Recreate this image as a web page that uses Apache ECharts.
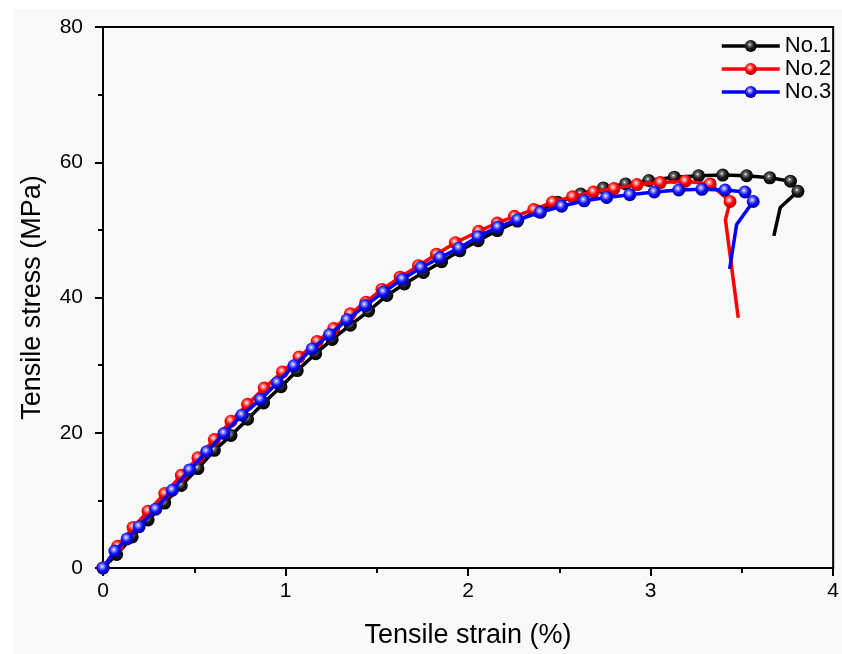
<!DOCTYPE html>
<html>
<head>
<meta charset="utf-8">
<script src="https://cdn.jsdelivr.net/npm/echarts@6/dist/echarts.min.js"></script>
<style>
html,body{margin:0;padding:0;background:#ffffff;}
#chart{width:842px;height:654px;}
</style>
</head>
<body>
<div id="chart"></div>
<script>
// ---- data (strain %, stress MPa) ----
const seriesNames = ['No.1', 'No.2', 'No.3'];

const no1Strain = [0, 0.075, 0.16, 0.247, 0.338, 0.429, 0.52, 0.61, 0.701, 0.792, 0.88, 0.975, 1.064, 1.165, 1.255, 1.355, 1.455, 1.555, 1.651, 1.755, 1.855, 1.955, 2.055, 2.16, 2.27, 2.38, 2.49, 2.617, 2.741, 2.863, 2.99, 3.13, 3.263, 3.395, 3.526, 3.653, 3.766, 3.807];
const no1Stress = [0, 2.0, 4.6, 7.1, 9.6, 12.2, 14.7, 17.4, 19.6, 22.0, 24.4, 26.8, 29.2, 31.7, 33.8, 35.9, 38.0, 40.3, 42.0, 43.7, 45.3, 46.9, 48.4, 49.9, 51.3, 52.8, 54.1, 55.3, 56.2, 56.8, 57.3, 57.8, 58.0, 58.1, 58.0, 57.7, 57.2, 55.7];
const no1TailStrain = [3.71, 3.675];
const no1TailStress = [53.3, 49.1];

const no2Strain = [0, 0.08, 0.165, 0.247, 0.338, 0.429, 0.52, 0.61, 0.701, 0.792, 0.883, 0.983, 1.074, 1.173, 1.264, 1.355, 1.44, 1.528, 1.628, 1.728, 1.827, 1.93, 2.058, 2.16, 2.254, 2.36, 2.463, 2.572, 2.687, 2.799, 2.926, 3.053, 3.19, 3.326, 3.435];
const no2Stress = [0, 3.2, 6.0, 8.4, 11.0, 13.7, 16.3, 19.0, 21.7, 24.2, 26.6, 29.0, 31.2, 33.5, 35.4, 37.6, 39.3, 41.2, 43.0, 44.7, 46.4, 48.1, 49.8, 51.0, 52.0, 53.0, 54.1, 54.9, 55.6, 56.1, 56.7, 57.0, 57.2, 56.8, 54.2];
const no2TailStrain = [3.41, 3.48];
const no2TailStress = [51.5, 37.0];

const no3Strain = [0, 0.065, 0.132, 0.198, 0.289, 0.38, 0.474, 0.568, 0.663, 0.761, 0.863, 0.955, 1.046, 1.146, 1.241, 1.337, 1.437, 1.537, 1.64, 1.742, 1.846, 1.95, 2.054, 2.163, 2.272, 2.396, 2.512, 2.636, 2.759, 2.886, 3.02, 3.154, 3.281, 3.408, 3.517, 3.562];
const no3Stress = [0, 2.5, 4.3, 6.1, 8.7, 11.5, 14.5, 17.2, 19.9, 22.6, 24.9, 27.4, 29.9, 32.4, 34.5, 36.7, 38.8, 40.8, 42.7, 44.4, 45.9, 47.3, 49.0, 50.4, 51.5, 52.6, 53.5, 54.3, 54.8, 55.2, 55.6, 55.9, 56.0, 55.9, 55.6, 54.2];
const no3TailStrain = [3.471, 3.433];
const no3TailStress = [50.8, 44.2];

const xTicks = [0, 1, 2, 3, 4];
const yTicks = [0, 20, 40, 60, 80];

// ---- build ----
const FONT = '"Liberation Sans", Arial, sans-serif';

function sphere(light, base, dark) {
  return {
    type: 'radial', x: 0.42, y: 0.38, r: 0.62,
    colorStops: [
      {offset: 0, color: '#ffffff'},
      {offset: 0.18, color: light},
      {offset: 0.55, color: base},
      {offset: 1, color: dark}
    ]
  };
}

function buildData(xs, ys, txs, tys) {
  const d = xs.map((x, i) => ({value: [x, ys[i]]}));
  txs.forEach((x, i) => d.push({value: [x, tys[i]], symbol: 'none'}));
  return d;
}

const colors = ['#000000', '#ff0000', '#0000ff'];
const fills = [
  sphere('#777777', '#1a1a1a', '#000000'),
  sphere('#ff9a9a', '#ff0000', '#b00000'),
  sphere('#9a9aff', '#1010ff', '#00008c')
];
const datas = [
  buildData(no1Strain, no1Stress, no1TailStrain, no1TailStress),
  buildData(no2Strain, no2Stress, no2TailStrain, no2TailStress),
  buildData(no3Strain, no3Stress, no3TailStrain, no3TailStress)
];

const series = seriesNames.map((name, i) => ({
  name: name,
  type: 'line',
  data: datas[i],
  symbol: 'circle',
  symbolSize: 13,
  showAllSymbol: true,
  lineStyle: {color: colors[i], width: 3.5},
  itemStyle: {color: fills[i], borderWidth: 0},
  emphasis: {disabled: true},
  z: 2 + i
}));

const chart = echarts.init(document.getElementById('chart'), null, {renderer: 'canvas'});
chart.setOption({
  backgroundColor: '#ffffff',
  animation: false,
  graphic: [{
    type: 'rect', left: 13, top: 9, z: -100,
    shape: {width: 829, height: 645},
    style: {fill: '#f9f9f9'}
  }],
  grid: {left: 103, right: 5, top: 27, bottom: 84, show: true, borderColor: '#000', borderWidth: 2, backgroundColor: 'transparent'},
  legend: {
    data: seriesNames,
    orient: 'vertical',
    left: 720, top: 35,
    padding: 0,
    itemWidth: 58, itemHeight: 15, itemGap: 1,
    lineStyle: {width: 3.5},
    textStyle: {fontFamily: FONT, fontSize: 22, color: '#000'},
    selectedMode: false
  },
  xAxis: {
    type: 'value', min: xTicks[0], max: xTicks[xTicks.length - 1], interval: 1,
    name: 'Tensile strain (%)', nameLocation: 'middle', nameGap: 54,
    nameTextStyle: {fontFamily: FONT, fontSize: 27, color: '#000'},
    axisLine: {show: true, onZero: false, lineStyle: {color: '#000', width: 2}},
    axisTick: {show: true, inside: false, length: 8, lineStyle: {color: '#000', width: 2}},
    minorTick: {show: true, splitNumber: 2, length: 5, lineStyle: {color: '#000', width: 2}},
    axisLabel: {fontFamily: FONT, fontSize: 21, color: '#000', margin: 13},
    splitLine: {show: false}
  },
  yAxis: {
    type: 'value', min: yTicks[0], max: yTicks[yTicks.length - 1], interval: 20,
    name: 'Tensile stress (MPa)', nameLocation: 'middle', nameGap: 57,
    nameTextStyle: {fontFamily: FONT, fontSize: 27, color: '#000'},
    axisLine: {show: true, onZero: false, lineStyle: {color: '#000', width: 2}},
    axisTick: {show: true, inside: false, length: 8, lineStyle: {color: '#000', width: 2}},
    minorTick: {show: true, splitNumber: 2, length: 5, lineStyle: {color: '#000', width: 2}},
    axisLabel: {fontFamily: FONT, fontSize: 21, color: '#000', margin: 20},
    splitLine: {show: false}
  },
  series: series
});
</script>
</body>
</html>
